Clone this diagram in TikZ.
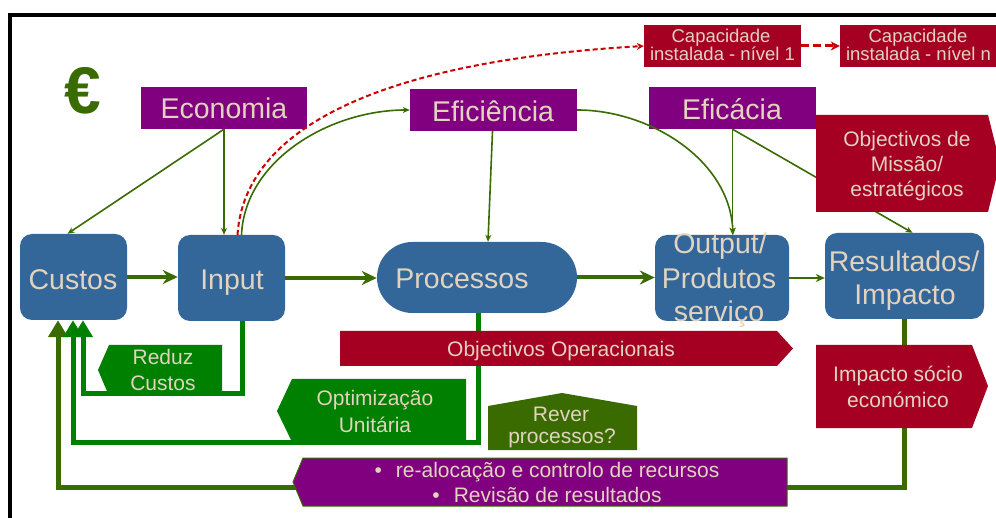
\documentclass[tikz,border=0pt]{standalone}
\usepackage{fontspec}
\setmainfont{Liberation Sans}
\usetikzlibrary{arrows.meta,shapes.misc,calc}
\definecolor{cblue}{HTML}{336699}
\definecolor{cpurple}{HTML}{800080}
\definecolor{cred}{HTML}{A50021}
\definecolor{cgreen}{HTML}{008000}
\definecolor{colive}{HTML}{3A6B00}
\definecolor{ctext}{HTML}{E2D3BF}
\definecolor{cdash}{HTML}{CC0000}
\begin{document}
\begin{tikzpicture}[x=1pt,y=-1pt,
 bluebox/.style={fill=cblue, rounded corners=12pt, inner sep=0pt},
 tab/.style={fill=cpurple, inner sep=0pt, minimum height=42pt},
 captab/.style={fill=cred, inner sep=0pt, minimum height=42pt, minimum width=157pt},
 bigtxt/.style={text=ctext, font=\fontsize{28.5}{28.5}\selectfont, anchor=base, inner sep=0pt},
 smalltxt/.style={text=ctext, font=\fontsize{21}{21}\selectfont, anchor=base, inner sep=0pt},
 captxt/.style={text=ctext, font=\fontsize{18.5}{18.5}\selectfont, anchor=base, inner sep=0pt},
 thinarrow/.style={draw=colive, line width=1.6pt, -{Stealth[length=7pt,width=6pt]}},
 thickarrow/.style={draw=colive, line width=4pt, -{Stealth[length=15pt,width=14pt]}},
 feedback/.style={line width=5pt, -{Triangle[length=17pt,width=19pt]}},
 reddash/.style={draw=cdash, line width=2pt, dash pattern=on 5pt off 3pt, -{Stealth[length=7pt,width=7pt]}},
]
\useasboundingbox (0,0) rectangle (996,518);
\clip (0,0) rectangle (996,518);
\fill[white] (0,0) rectangle (996,518);

% frame
\draw[line width=4pt] (10,530) -- (10,15) -- (1010,15);

% euro
\node[text=colive, font=\fontsize{66}{66}\selectfont\bfseries, inner sep=0pt] (euro) at (83,91) {€};

% main boxes
\node[bluebox, minimum width=107pt, minimum height=86pt] (custos) at (73.5,277) {};
\node[bluebox, minimum width=107pt, minimum height=86pt] (input) at (231.5,278) {};
\node[fill=cblue, rounded rectangle, minimum width=200pt, minimum height=71pt, inner sep=0pt] (processos) at (477,277.5) {};
\node[bluebox, minimum width=134pt, minimum height=86pt] (output) at (722,278) {};
\node[bluebox, minimum width=159pt, minimum height=86pt] (result) at (904.5,276) {};

% top tabs
\node[tab, minimum width=166pt] (economia) at (224,108) {};
\node[tab, minimum width=167pt] (eficiencia) at (493.5,110) {};
\node[tab, minimum width=167pt] (eficacia) at (732.5,108) {};
\node[captab] (cap1) at (722.5,46) {};
\node[captab] (capn) at (918.5,46) {};

% thin connectors
\draw[thinarrow] (economia.south) -- ([xshift=-6pt]custos.north);
\draw[thinarrow] (economia.south) -- (economia.south |- input.north);
\draw[thinarrow] ([xshift=-1pt]eficiencia.south) -- ([xshift=11pt]processos.north);
\draw[thinarrow] ([xshift=10pt]input.north) .. controls (245,160) and (330,110) .. (eficiencia.west);
\draw[reddash] ([xshift=6pt]input.north) .. controls (245,120) and (400,60) .. (cap1.west);
\draw[draw=cdash, line width=3pt, dash pattern=on 8pt off 4pt, -{Stealth[length=9pt,width=9pt]}] (cap1.east) -- (capn.west);
\draw[thinarrow] (eficiencia.east) .. controls (650,110) and (730,160) .. ([xshift=11pt]output.north);
\draw[thinarrow] (eficacia.south) -- (eficacia.south |- output.north);
\draw[thinarrow] (eficacia.south) -- ([xshift=8pt]result.north);

% main flow
\draw[thickarrow] (custos.east) -- (custos.east -| input.west);
\draw[thickarrow] (input.east) -- (input.east -| processos.west);
\draw[thickarrow] (processos.east) -- (processos.east -| output.west);
\draw[draw=colive, line width=2.5pt, -{Stealth[length=9pt,width=8pt]}] (output.east) -- (output.east -| result.west);

% feedback loops
\draw[feedback, draw=colive] (result.south) -- ++(0,168) -| ([xshift=-15.5pt]custos.south);
\draw[feedback, draw=cgreen] ([xshift=1pt]processos.south) -- ++(0,129) -| ([xshift=-0.5pt]custos.south);
\draw[feedback, draw=cgreen] ([xshift=10.5pt]input.south) -- ++(0,72) -| ([xshift=9.5pt]custos.south);

% banner shapes
\fill[cred] (340,331) -- (777,331) -- (793,348.5) -- (777,366) -- (340,366) -- cycle;
\fill[cgreen] (222,345) -- (109,345) -- (98,370) -- (109,396) -- (222,396) -- cycle;
\fill[cgreen] (466,379) -- (292,379) -- (277,411) -- (292,442) -- (466,442) -- cycle;
\fill[colive] (488,406) -- (562,393) -- (637,406) -- (637,450) -- (488,450) -- cycle;
\fill[cred] (816,345) -- (972,345) -- (988,386) -- (972,428) -- (816,428) -- cycle;
\fill[cred] (816,115) -- (988,115) -- (1000,163) -- (988,212) -- (816,212) -- cycle;
\filldraw[fill=cpurple, draw=colive, line width=1pt] (787,458) -- (303,458) -- (293,482) -- (303,506) -- (787,506) -- cycle;

% texts
\node[bigtxt] (tcustos) at (73,290) {Custos};
\node[bigtxt] (tinput) at (232,290) {Input};
\node[bigtxt] (tproc) at (462,289) {Processos};
\node[bigtxt] (tout1) at (720,254) {Output/};
\node[bigtxt] (tout2) at (719,289) {Produtos};
\node[bigtxt] (tout3) at (719,322) {serviço};
\node[bigtxt] (tres1) at (904,272) {Resultados/};
\node[bigtxt] (tres2) at (905,305) {Impacto};
\node[bigtxt] (teco) at (224,119) {Economia};
\node[bigtxt] (tefi) at (493,122) {Eficiência};
\node[bigtxt] (tefa) at (732,120) {Eficácia};

\node[captxt] (tcap1a) at (721,43) {Capacidade};
\node[captxt] (tcap1b) at (722.5,61) {instalada - nível 1};
\node[captxt] (tcapna) at (918,43) {Capacidade};
\node[captxt] (tcapnb) at (918.5,61) {instalada - nível n};

\node[smalltxt] (tmis1) at (907,147) {Objectivos de};
\node[smalltxt] (tmis2) at (907,172) {Missão/};
\node[smalltxt] (tmis3) at (907,197) {estratégicos};
\node[smalltxt] (tobjop) at (561,357) {Objectivos Operacionais};
\node[smalltxt] (tred1) at (163,365) {Reduz};
\node[smalltxt] (tred2) at (163,391) {Custos};
\node[smalltxt] (topt1) at (375,406) {Optimização};
\node[smalltxt] (topt2) at (375,432) {Unitária};
\node[smalltxt] (trev1) at (561,421) {Rever};
\node[smalltxt] (trev2) at (562,443) {processos?};
\node[smalltxt] (timp1) at (898,382) {Impacto sócio};
\node[smalltxt] (timp2) at (898,407) {económico};
\node[smalltxt] (tpur1) at (547,477) {\textbullet\hspace{14pt}re-alocação e controlo de recursos};
\node[smalltxt] (tpur2) at (547,502) {\textbullet\hspace{14pt}Revisão de resultados};
\end{tikzpicture}
\end{document}
